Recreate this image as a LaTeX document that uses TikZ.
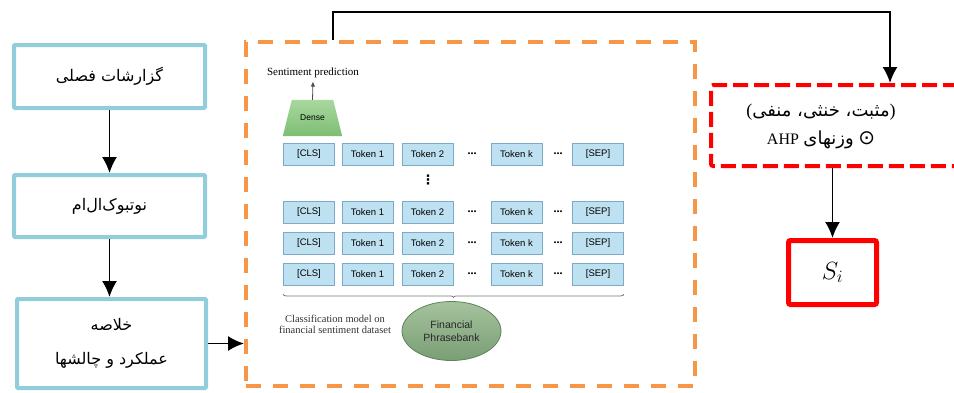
\documentclass[tikz,border=0pt]{standalone}
\usepackage{fontspec}
\setmainfont{Liberation Serif}
\setsansfont{Liberation Sans}
\newfontfamily\arabicfont[Script=Arabic]{DejaVu Sans}
\newfontfamily\glyphfont{DejaVu Sans}
\TeXXeTstate=1
\usetikzlibrary{arrows.meta, shapes.geometric, decorations.pathreplacing, calc}
\tikzset{>={Latex[length=16pt,width=15pt]}}
\definecolor{stageblue}{RGB}{146,205,220}
\definecolor{modelorange}{RGB}{247,150,70}
\definecolor{tokfill}{RGB}{190,225,242}
\definecolor{tokline}{RGB}{125,170,200}
\definecolor{densetop}{RGB}{168,216,158}
\definecolor{densebot}{RGB}{125,190,115}
\definecolor{banktop}{RGB}{165,195,158}
\definecolor{bankbot}{RGB}{122,158,117}
\definecolor{bankline}{RGB}{95,130,90}
\newcommand{\fatext}[1]{{\arabicfont\beginR #1\endR}}

\begin{document}
\begin{tikzpicture}[x=1pt,y=-1pt,
    stagebox/.style={draw=stageblue, line width=4pt, rounded corners=1pt, inner sep=0pt, align=center,
        font=\fontsize{16}{34}\selectfont},
    token/.style={draw=tokline, fill=tokfill, line width=0.8pt, minimum width=51pt, minimum height=22pt,
        inner sep=0pt, font=\sffamily\fontsize{9.5}{10}\selectfont},
    gap/.style={inner sep=0pt, font=\bfseries\fontsize{12}{12}\selectfont},
    flow/.style={->, line width=1.8pt}
]
    \useasboundingbox (0,0) rectangle (954,392);
    \clip (0,0) rectangle (954,392);

    %left column
    \node[stagebox, minimum width=191pt, minimum height=63pt] (reports) at (109.5,76.5) {\fatext{گزارشات فصلی}};
    \node[stagebox, minimum width=191pt, minimum height=62pt] (notebook) at (109.5,206) {\fatext{نوتبوک^^^^200cال^^^^200cام}};
    \node[stagebox, minimum width=189pt, minimum height=89pt] (summary) at (111.5,343.5)
        {\fatext{خلاصه}\\\fatext{عملکرد و چالشها}};

    %classification model
    \node[draw=modelorange, line width=4pt, dash pattern=on 15pt off 12pt, minimum width=449pt,
        minimum height=344pt, inner sep=0pt] (model) at (470.5,214) {};

    \node[font=\fontsize{11}{12}\selectfont] (sent) at (313,73) {Sentiment prediction};
    \node[font=\sffamily\fontsize{8.5}{9}\selectfont, minimum width=59pt, minimum height=36pt,
        inner sep=0pt] (dense) at (312.5,118) {};
    \path[top color=densetop, bottom color=densebot]
        ($(dense.south west)$) -- ($(dense.north west)+(9,0)$) -- ($(dense.north east)+(-9,0)$)
        -- (dense.south east) -- cycle;
    \node[font=\sffamily\fontsize{8.5}{9}\selectfont] at (dense) {Dense};
    \draw[-{Latex[length=5pt,width=4.5pt]}, line width=0.8pt, black!70] (dense.north) -- (sent.south);

    \foreach \r/\y in {a/154, b/212, c/243, d/274} {
        \foreach \c/\x/\t in {cls/309/{[CLS]}, one/367.5/Token 1, two/427.5/Token 2, k/516.5/Token k, sep/598/{[SEP]}}
            \node[token] (\r\c) at (\x,\y) {\t};
        \node[gap] (\r gapa) at (472,\y) {...};
        \node[gap] (\r gapb) at (558,\y) {...};
    }
    \node[inner sep=0pt, font=\glyphfont\bfseries\fontsize{13}{13}\selectfont] (vdots) at (428,180) {⋮};

    \draw[decorate, decoration={brace, mirror, amplitude=3pt}, line width=0.8pt, black!55]
        ($(dcls.south west)+(0,9)$) -- ($(dsep.south east)+(0,9)$);
    \node[align=center, font=\fontsize{10.5}{11}\selectfont, text=black!80] (caption) at (335,324)
        {Classification model on\\financial sentiment dataset};
    \node[ellipse, draw=bankline, line width=0.8pt, top color=banktop, bottom color=bankbot,
        minimum width=99pt, minimum height=59pt, align=center,
        font=\sffamily\fontsize{10.5}{13}\selectfont, text=black!85] (bank) at (451.5,331) {Financial\\Phrasebank};

    %weighting and score
    \node[draw=red, line width=4pt, dash pattern=on 15pt off 6pt, rounded corners=2pt,
        minimum width=249pt, minimum height=81pt, inner sep=0pt] (weights) at (835.5,125.5) {};
    \node[align=center, font=\fontsize{18}{28}\selectfont] (wlabel) at (821,126)
        {(\fatext{مثبت، خنثی، منفی})\\{\fontsize{16}{16}\selectfont AHP} \fatext{وزنهای}\ {\glyphfont\fontsize{20}{20}\selectfont ⊙}};
    \node[draw=red, line width=5pt, rounded corners=2pt, minimum width=88pt, minimum height=64pt,
        font=\fontsize{26}{26}\selectfont] (score) at (832.5,272.5) {$S_i$};

    %connectors
    \coordinate (tap) at (333,40);
    \coordinate (drop) at (890,83);
    \draw[flow] (reports) -- (notebook);
    \draw[flow] (notebook.south) -- (notebook.south |- summary.north);
    \draw[flow] (summary.east) -- (summary.east -| model.west);
    \draw[flow] (tap) -- (333,12) -| (drop);
    \draw[flow] (weights.south -| score.north) -- (score.north);
\end{tikzpicture}
\end{document}
